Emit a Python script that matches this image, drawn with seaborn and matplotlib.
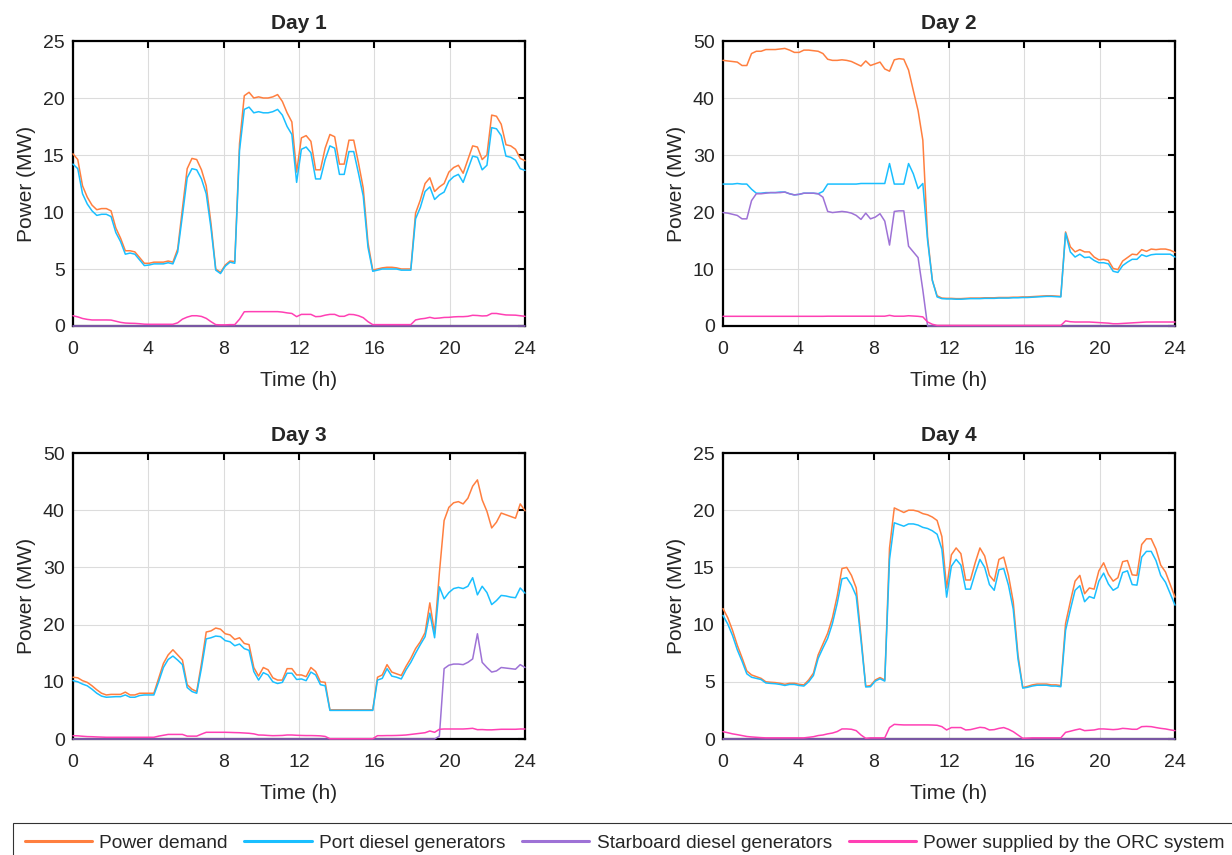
import numpy as np
import pandas as pd
import matplotlib
matplotlib.use("Agg")
import matplotlib.pyplot as plt
import seaborn as sns

# ---------------- data ----------------
n_pts = 96
time_h = np.linspace(0, 24, n_pts)

series_names = ["Power demand", "Port diesel generators",
                "Starboard diesel generators", "Power supplied by the ORC system"]
day_titles = ["Day 1", "Day 2", "Day 3", "Day 4"]
y_limits = [25, 50, 50, 25]
y_steps = [5, 10, 10, 5]
x_ticks = [0, 4, 8, 12, 16, 20, 24]

demand1 = [15.1, 14.6, 12.3, 11.3, 10.6, 10.2, 10.3, 10.3, 10.1, 8.6,
           7.7, 6.6, 6.6, 6.5, 6.0, 5.5, 5.5, 5.6, 5.6, 5.6,
           5.7, 5.6, 6.75, 10.3, 13.8, 14.7, 14.6, 13.7, 12.3, 9.0,
           5.0, 4.7, 5.35, 5.7, 5.65, 16.0, 20.2, 20.5, 20.0, 20.1,
           20.0, 20.0, 20.1, 20.3, 19.7, 18.7, 17.9, 13.5, 16.5, 16.7,
           16.2, 13.7, 13.7, 15.6, 16.8, 16.6, 14.2, 14.2, 16.3, 16.3,
           14.3, 12.1, 7.3, 4.9, 5.0, 5.1, 5.15, 5.15, 5.1, 5.0,
           5.0, 5.0, 9.9, 11.05, 12.5, 13.0, 11.8, 12.2, 12.5, 13.5,
           13.9, 14.1, 13.4, 14.6, 15.8, 15.7, 14.6, 15.0, 18.5, 18.4,
           17.7, 15.9, 15.8, 15.5, 14.7, 14.5]
port1 = [14.2, 13.8, 11.6, 10.7, 10.1, 9.7, 9.8, 9.8, 9.6, 8.2,
         7.4, 6.3, 6.4, 6.3, 5.8, 5.3, 5.35, 5.45, 5.45, 5.45,
         5.55, 5.45, 6.5, 9.7, 13.0, 13.8, 13.7, 12.9, 11.6, 8.6,
         4.9, 4.6, 5.25, 5.6, 5.5, 15.4, 19.0, 19.2, 18.7, 18.8,
         18.7, 18.7, 18.8, 19.0, 18.5, 17.5, 16.8, 12.6, 15.5, 15.7,
         15.2, 12.9, 12.9, 14.6, 15.8, 15.6, 13.3, 13.3, 15.3, 15.3,
         13.4, 11.4, 6.9, 4.8, 4.9, 5.0, 5.0, 5.0, 5.0, 4.9,
         4.9, 4.9, 9.4, 10.4, 11.8, 12.2, 11.1, 11.5, 11.75, 12.7,
         13.1, 13.3, 12.6, 13.75, 14.9, 14.8, 13.7, 14.1, 17.4, 17.3,
         16.7, 14.9, 14.8, 14.55, 13.8, 13.65]
star1 = [0.0] * n_pts
orc1 = [0.9, 0.8, 0.66, 0.58, 0.53, 0.53, 0.53, 0.53, 0.52, 0.42,
        0.32, 0.26, 0.24, 0.23, 0.2, 0.16, 0.15, 0.15, 0.15, 0.15,
        0.15, 0.15, 0.28, 0.6, 0.78, 0.9, 0.9, 0.84, 0.67, 0.38,
        0.12, 0.1, 0.1, 0.12, 0.12, 0.6, 1.25, 1.26, 1.26, 1.26,
        1.26, 1.26, 1.26, 1.26, 1.22, 1.15, 1.1, 0.82, 1.02, 1.02,
        1.02, 0.82, 0.84, 0.95, 1.02, 1.02, 0.85, 0.85, 1.02, 1.0,
        0.9, 0.73, 0.38, 0.12, 0.12, 0.12, 0.12, 0.12, 0.12, 0.12,
        0.12, 0.12, 0.53, 0.62, 0.67, 0.76, 0.67, 0.7, 0.75, 0.76,
        0.8, 0.82, 0.82, 0.85, 0.94, 0.92, 0.88, 0.9, 1.1, 1.1,
        1.03, 0.97, 0.96, 0.95, 0.9, 0.85]

demand2 = [46.6, 46.5, 46.4, 46.3, 45.7, 45.7, 47.8, 48.2, 48.2, 48.5,
           48.5, 48.5, 48.6, 48.7, 48.4, 48.0, 48.0, 48.4, 48.4, 48.3,
           48.2, 47.8, 46.8, 46.6, 46.6, 46.7, 46.6, 46.4, 46.0, 45.6,
           46.5, 45.7, 46.0, 46.3, 45.1, 44.7, 46.7, 46.9, 46.8, 44.9,
           41.3, 37.8, 32.6, 15.6, 8.0, 5.3, 4.9, 4.85, 4.85, 4.8,
           4.8, 4.85, 4.9, 4.9, 4.9, 4.95, 4.95, 4.95, 5.0, 5.0,
           5.0, 5.05, 5.05, 5.1, 5.1, 5.15, 5.2, 5.25, 5.3, 5.3,
           5.25, 5.2, 16.5, 13.9, 13.0, 13.4, 13.0, 13.0, 12.1, 11.6,
           11.7, 11.5, 10.1, 9.9, 11.4, 12.0, 12.6, 12.5, 13.4, 13.1,
           13.5, 13.4, 13.5, 13.5, 13.3, 12.9]
port2 = [24.9, 24.9, 24.9, 25.0, 24.9, 24.9, 24.0, 23.3, 23.3, 23.4,
         23.4, 23.4, 23.5, 23.5, 23.2, 23.0, 23.1, 23.3, 23.3, 23.3,
         23.2, 23.6, 24.9, 24.9, 24.9, 24.9, 24.9, 24.9, 24.9, 25.0,
         25.0, 25.0, 25.0, 25.0, 25.0, 28.5, 24.9, 24.9, 24.9, 28.5,
         26.7, 24.1, 25.0, 15.0, 8.0, 5.1, 4.8, 4.75, 4.75, 4.7,
         4.7, 4.75, 4.8, 4.8, 4.8, 4.85, 4.85, 4.85, 4.9, 4.9,
         4.9, 4.95, 4.95, 5.0, 5.0, 5.05, 5.1, 5.15, 5.2, 5.2,
         5.15, 5.1, 16.3, 13.0, 12.1, 12.6, 12.0, 12.1, 11.5, 11.1,
         11.1, 10.9, 9.6, 9.4, 10.6, 11.2, 11.7, 11.7, 12.5, 12.2,
         12.5, 12.6, 12.6, 12.6, 12.6, 12.1]
star2 = [19.9, 19.8, 19.6, 19.4, 18.8, 18.8, 22.0, 23.2, 23.2, 23.3,
         23.4, 23.4, 23.4, 23.5, 23.2, 23.0, 23.1, 23.3, 23.3, 23.3,
         23.2, 22.6, 20.1, 19.9, 20.0, 20.1, 20.0, 19.8, 19.4, 18.7,
         19.8, 18.8, 19.1, 19.7, 18.4, 14.2, 20.1, 20.2, 20.2, 14.0,
         13.0, 12.0, 6.3, 0.0, 0.0, 0.0, 0.0, 0.0, 0.0, 0.0,
         0.0, 0.0, 0.0, 0.0, 0.0, 0.0, 0.0, 0.0, 0.0, 0.0,
         0.0, 0.0, 0.0, 0.0, 0.0, 0.0, 0.0, 0.0, 0.0, 0.0,
         0.0, 0.0, 0.0, 0.0, 0.0, 0.0, 0.0, 0.0, 0.0, 0.0,
         0.0, 0.0, 0.0, 0.0, 0.0, 0.0, 0.0, 0.0, 0.0, 0.0,
         0.0, 0.0, 0.0, 0.0, 0.0, 0.0]
orc2 = [1.7, 1.7, 1.7, 1.7, 1.7, 1.7, 1.7, 1.7, 1.7, 1.7,
        1.7, 1.7, 1.7, 1.7, 1.7, 1.7, 1.7, 1.7, 1.7, 1.7,
        1.7, 1.7, 1.72, 1.72, 1.72, 1.72, 1.72, 1.72, 1.72, 1.72,
        1.72, 1.72, 1.72, 1.72, 1.72, 1.87, 1.72, 1.72, 1.72, 1.8,
        1.75, 1.7, 1.6, 0.7, 0.3, 0.1, 0.1, 0.1, 0.1, 0.1,
        0.1, 0.1, 0.1, 0.1, 0.1, 0.1, 0.1, 0.1, 0.1, 0.1,
        0.1, 0.1, 0.1, 0.1, 0.1, 0.1, 0.1, 0.1, 0.1, 0.1,
        0.1, 0.1, 0.9, 0.75, 0.7, 0.7, 0.7, 0.7, 0.65, 0.6,
        0.55, 0.5, 0.4, 0.4, 0.45, 0.5, 0.55, 0.6, 0.65, 0.7,
        0.7, 0.7, 0.7, 0.7, 0.7, 0.7]

demand3 = [10.8, 10.7, 10.2, 9.9, 9.3, 8.6, 8.0, 7.7, 7.8, 7.8,
           7.8, 8.2, 7.7, 7.7, 8.0, 8.0, 8.0, 8.0, 10.6, 13.2,
           14.7, 15.6, 14.7, 13.8, 9.5, 8.7, 8.3, 13.2, 18.7, 18.9,
           19.4, 19.2, 18.4, 18.2, 17.4, 17.7, 16.7, 16.5, 12.5, 11.0,
           12.5, 12.1, 10.7, 10.3, 10.3, 12.3, 12.3, 11.2, 11.2, 10.9,
           12.5, 11.8, 10.0, 9.9, 5.1, 5.1, 5.1, 5.1, 5.1, 5.1,
           5.1, 5.1, 5.1, 5.1, 10.8, 11.2, 13.0, 11.7, 11.4, 11.1,
           12.7, 14.1, 15.8, 17.0, 18.6, 23.8, 18.5, 29.0, 38.2, 40.5,
           41.3, 41.5, 41.1, 42.1, 44.2, 45.3, 41.8, 39.8, 36.9, 37.9,
           39.5, 39.2, 38.9, 38.6, 41.1, 39.9]
port3 = [10.2, 10.0, 9.6, 9.3, 8.7, 8.0, 7.5, 7.3, 7.35, 7.4,
         7.4, 7.7, 7.3, 7.3, 7.6, 7.7, 7.7, 7.7, 10.0, 12.5,
         13.9, 14.5, 13.8, 13.0, 9.0, 8.3, 8.0, 12.4, 17.5, 17.7,
         18.0, 17.9, 17.2, 17.0, 16.3, 16.6, 15.8, 15.5, 11.8, 10.3,
         11.6, 11.2, 10.0, 9.7, 9.9, 11.5, 11.5, 10.4, 10.5, 10.2,
         11.7, 11.2, 9.5, 9.3, 5.0, 5.0, 5.0, 5.0, 5.0, 5.0,
         5.0, 5.0, 5.0, 5.0, 10.3, 10.6, 12.3, 11.0, 10.8, 10.5,
         12.1, 13.4, 15.0, 16.5, 17.9, 22.0, 17.7, 26.6, 24.5, 25.6,
         26.3, 26.5, 26.3, 26.7, 28.2, 25.2, 26.7, 25.6, 23.5, 24.2,
         25.1, 25.0, 24.8, 24.7, 26.4, 25.5]
star3 = [0.0, 0.0, 0.0, 0.0, 0.0, 0.0, 0.0, 0.0, 0.0, 0.0,
         0.0, 0.0, 0.0, 0.0, 0.0, 0.0, 0.0, 0.0, 0.0, 0.0,
         0.0, 0.0, 0.0, 0.0, 0.0, 0.0, 0.0, 0.0, 0.0, 0.0,
         0.0, 0.0, 0.0, 0.0, 0.0, 0.0, 0.0, 0.0, 0.0, 0.0,
         0.0, 0.0, 0.0, 0.0, 0.0, 0.0, 0.0, 0.0, 0.0, 0.0,
         0.0, 0.0, 0.0, 0.0, 0.0, 0.0, 0.0, 0.0, 0.0, 0.0,
         0.0, 0.0, 0.0, 0.0, 0.0, 0.0, 0.0, 0.0, 0.0, 0.0,
         0.0, 0.0, 0.0, 0.0, 0.0, 0.0, 0.0, 0.5, 12.3, 12.9,
         13.1, 13.1, 13.0, 13.4, 14.0, 18.4, 13.4, 12.5, 11.7, 11.9,
         12.5, 12.4, 12.3, 12.2, 13.0, 12.5]
orc3 = [0.58, 0.55, 0.48, 0.42, 0.4, 0.36, 0.33, 0.3, 0.3, 0.3,
        0.3, 0.3, 0.3, 0.3, 0.3, 0.3, 0.3, 0.3, 0.5, 0.65,
        0.8, 0.8, 0.8, 0.8, 0.5, 0.5, 0.5, 0.85, 1.17, 1.17,
        1.17, 1.17, 1.17, 1.15, 1.12, 1.1, 1.05, 1.0, 0.9, 0.7,
        0.68, 0.62, 0.58, 0.6, 0.62, 0.7, 0.7, 0.65, 0.62, 0.6,
        0.6, 0.58, 0.55, 0.45, 0.05, 0.05, 0.05, 0.05, 0.05, 0.05,
        0.05, 0.05, 0.05, 0.05, 0.58, 0.58, 0.6, 0.6, 0.62, 0.65,
        0.7, 0.8, 0.9, 1.0, 1.1, 1.4, 1.17, 1.7, 1.75, 1.75,
        1.75, 1.75, 1.75, 1.8, 1.87, 1.63, 1.65, 1.6, 1.6, 1.65,
        1.7, 1.7, 1.7, 1.7, 1.75, 1.75]

demand4 = [11.4, 10.6, 9.5, 8.2, 7.1, 5.95, 5.6, 5.45, 5.3, 5.0,
           4.96, 4.93, 4.87, 4.78, 4.87, 4.87, 4.78, 4.73, 5.16, 5.75,
           7.35, 8.3, 9.25, 10.6, 12.5, 14.9, 15.0, 14.3, 13.2, 9.0,
           4.6, 4.67, 5.16, 5.37, 5.16, 16.7, 20.2, 20.0, 19.8, 20.0,
           20.0, 19.9, 19.7, 19.6, 19.4, 19.1, 17.7, 13.2, 16.1, 16.7,
           16.2, 13.9, 13.9, 15.4, 16.7, 16.0, 14.3, 13.8, 15.7, 15.9,
           14.3, 12.0, 7.35, 4.5, 4.6, 4.73, 4.8, 4.8, 4.8, 4.73,
           4.73, 4.67, 10.1, 12.0, 13.8, 14.3, 12.7, 13.2, 13.1, 14.7,
           15.4, 14.4, 13.8, 14.1, 15.5, 15.6, 14.35, 14.3, 17.0, 17.5,
           17.5, 16.6, 15.2, 14.6, 13.5, 12.4]
port4 = [10.8, 10.05, 9.05, 7.8, 6.8, 5.7, 5.4, 5.3, 5.2, 4.9,
         4.86, 4.83, 4.77, 4.68, 4.77, 4.77, 4.68, 4.63, 5.0, 5.55,
         7.05, 7.95, 8.8, 10.1, 11.85, 14.0, 14.1, 13.45, 12.5, 8.65,
         4.55, 4.57, 5.06, 5.27, 5.06, 15.7, 18.9, 18.75, 18.6, 18.8,
         18.8, 18.7, 18.5, 18.4, 18.2, 17.9, 16.6, 12.4, 15.1, 15.7,
         15.2, 13.1, 13.1, 14.5, 15.7, 15.0, 13.5, 13.0, 14.8, 14.9,
         13.45, 11.35, 7.0, 4.45, 4.52, 4.63, 4.7, 4.7, 4.7, 4.63,
         4.63, 4.57, 9.5, 11.3, 13.0, 13.4, 12.0, 12.45, 12.3, 13.8,
         14.5, 13.55, 13.0, 13.25, 14.55, 14.7, 13.5, 13.45, 15.9, 16.4,
         16.4, 15.6, 14.3, 13.7, 12.7, 11.7]
star4 = [0.0] * n_pts
orc4 = [0.64, 0.55, 0.45, 0.38, 0.3, 0.22, 0.18, 0.15, 0.12, 0.1,
        0.1, 0.1, 0.1, 0.1, 0.1, 0.1, 0.1, 0.1, 0.15, 0.2,
        0.3, 0.35, 0.45, 0.52, 0.65, 0.88, 0.88, 0.85, 0.73, 0.35,
        0.06, 0.1, 0.1, 0.1, 0.1, 1.0, 1.28, 1.25, 1.23, 1.23,
        1.23, 1.23, 1.23, 1.23, 1.22, 1.2, 1.08, 0.79, 1.0, 1.0,
        1.0, 0.79, 0.82, 0.92, 1.02, 0.98, 0.79, 0.82, 0.93, 1.0,
        0.85, 0.64, 0.35, 0.06, 0.08, 0.1, 0.1, 0.1, 0.1, 0.1,
        0.1, 0.1, 0.58, 0.68, 0.79, 0.88, 0.73, 0.76, 0.79, 0.88,
        0.88, 0.85, 0.82, 0.85, 0.93, 0.9, 0.85, 0.85, 1.08, 1.1,
        1.08, 1.0, 0.93, 0.88, 0.8, 0.73]

days = [
    (demand1, port1, star1, orc1),
    (demand2, port2, star2, orc2),
    (demand3, port3, star3, orc3),
    (demand4, port4, star4, orc4),
]

colors = ["#FF7F3F", "#1ABFFF", "#9E72D6", "#FF40B4"]

# ---------------- style ----------------
sns.set_theme(style="white")
plt.rcParams["font.family"] = ["Liberation Sans", "DejaVu Sans"]

fig = plt.figure(figsize=(12.32, 8.55), dpi=100)
W, H = 1232.0, 855.0
panel_px = [(73, 41, 525, 326), (723, 41, 1175, 326),
            (73, 453, 525, 739), (723, 453, 1175, 739)]

handles = None
for k, (box, vals) in enumerate(zip(panel_px, days)):
    l, t, r, b = box
    ax = fig.add_axes([l / W, 1 - b / H, (r - l) / W, (b - t) / H])
    frames = []
    for name, v in zip(series_names, vals):
        frames.append(pd.DataFrame({"Time": time_h, "Power": v, "Series": name}))
    df = pd.concat(frames, ignore_index=True)
    sns.lineplot(data=df, x="Time", y="Power", hue="Series",
                 hue_order=series_names, palette=colors, ax=ax,
                 linewidth=1.1, legend=False, estimator=None, sort=False)
    for ln in ax.get_lines():
        ln.set_zorder(3)
        ln.set_clip_on(False)
    ax.set_xlim(0, 24)
    ax.set_ylim(0, y_limits[k])
    ax.set_xticks(x_ticks)
    ax.set_yticks(np.arange(0, y_limits[k] + 1, y_steps[k]))
    ax.grid(True, color="#dcdcdc", linewidth=0.8)
    ax.set_axisbelow(True)
    ax.tick_params(axis="both", direction="in", top=True, right=True,
                   length=5, width=1.5, labelsize=14, color="black",
                   labelcolor="#262626")
    ax.tick_params(axis="x", pad=11)
    ax.tick_params(axis="y", pad=6)
    for sp in ax.spines.values():
        sp.set_visible(True)
        sp.set_color("black")
        sp.set_linewidth(1.6)
    ax.set_xlabel("Time (h)", fontsize=15, color="#262626", labelpad=9)
    ax.set_ylabel("Power (MW)", fontsize=15, color="#262626", labelpad=5)
    ax.set_title(day_titles[k], fontsize=15, fontweight="bold", pad=9)
    if handles is None:
        handles = ax.get_lines()[:4]

leg = fig.legend(handles, series_names, loc="upper left",
                 bbox_to_anchor=(13 / W, 1 - 823 / H), ncol=4,
                 fontsize=13.8, frameon=True, fancybox=False,
                 edgecolor="black", handlelength=3.5, handletextpad=0.37,
                 columnspacing=0.9, borderpad=0.6, borderaxespad=0)
leg.get_frame().set_linewidth(0.8)
for line in leg.get_lines():
    line.set_linewidth(2.2)
    line.set_clip_on(True)

fig.savefig("out.png", dpi=100)
